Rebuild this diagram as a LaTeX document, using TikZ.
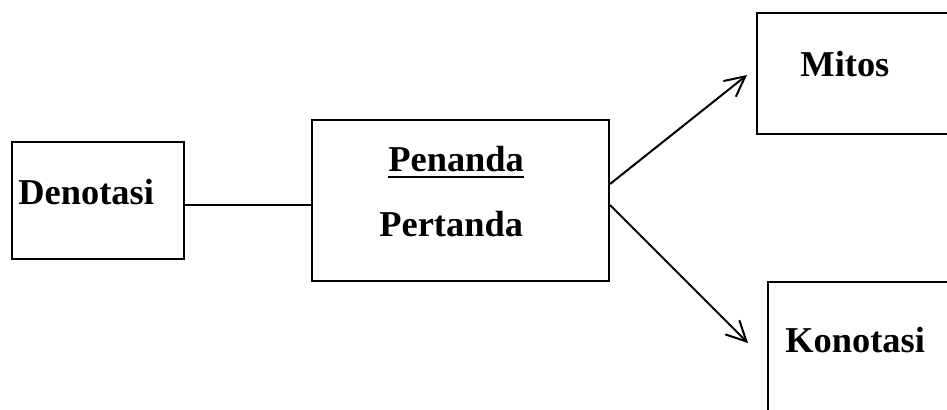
\documentclass[tikz,border=0pt]{standalone}
\usepackage{fontspec}
\setmainfont{Liberation Serif}
\usetikzlibrary{arrows.meta}

\begin{document}
\begin{tikzpicture}[x=0.5pt, y=-0.5pt,
    box/.style={draw, line width=1pt, inner sep=0pt},
    lbl/.style={font=\fontsize{18.2}{22}\selectfont\bfseries, inner sep=0pt, anchor=base west},
    >={Straight Barb[length=10pt, width=10pt]}]
  \useasboundingbox (0,0) rectangle (947,409);
  \clip (0,0) rectangle (947,409);
  % boxes
  \node[box, minimum width=86pt, minimum height=58.5pt] (den) at (98,200.5) {};
  \node[box, minimum width=148.5pt, minimum height=80.5pt] (sign) at (460.5,200.5) {};
  \node[box, minimum width=101.5pt, minimum height=60.5pt] (mitos) at (858.5,73.5) {};
  \node[box, minimum width=96pt, minimum height=69pt] (kono) at (864,351) {};
  % texts
  \node[lbl] (dentext) at (18,204) {Denotasi};
  \node[lbl] (penanda) at (388,171) {Penanda};
  \node[lbl] (pertanda) at (379,236) {Pertanda};
  \node[lbl] (mitostext) at (800,76) {Mitos};
  \node[lbl] (konotext) at (785,352) {Konotasi};
  \draw[line width=1.4pt] ([yshift=-3pt]penanda.base west) -- ([yshift=-3pt]penanda.base east);
  % connectors
  \coordinate (mtip) at (747,75);
  \coordinate (ktip) at (748,343);
  \draw[line width=0.6pt] ([yshift=-2.25pt]den.east) -- ([yshift=-2.25pt]sign.west);
  \draw[->, line width=1pt] ([yshift=8.25pt]sign.east) -- (mtip);
  \draw[->, line width=1pt] ([yshift=-2.25pt]sign.east) -- (ktip);
\end{tikzpicture}
\end{document}
